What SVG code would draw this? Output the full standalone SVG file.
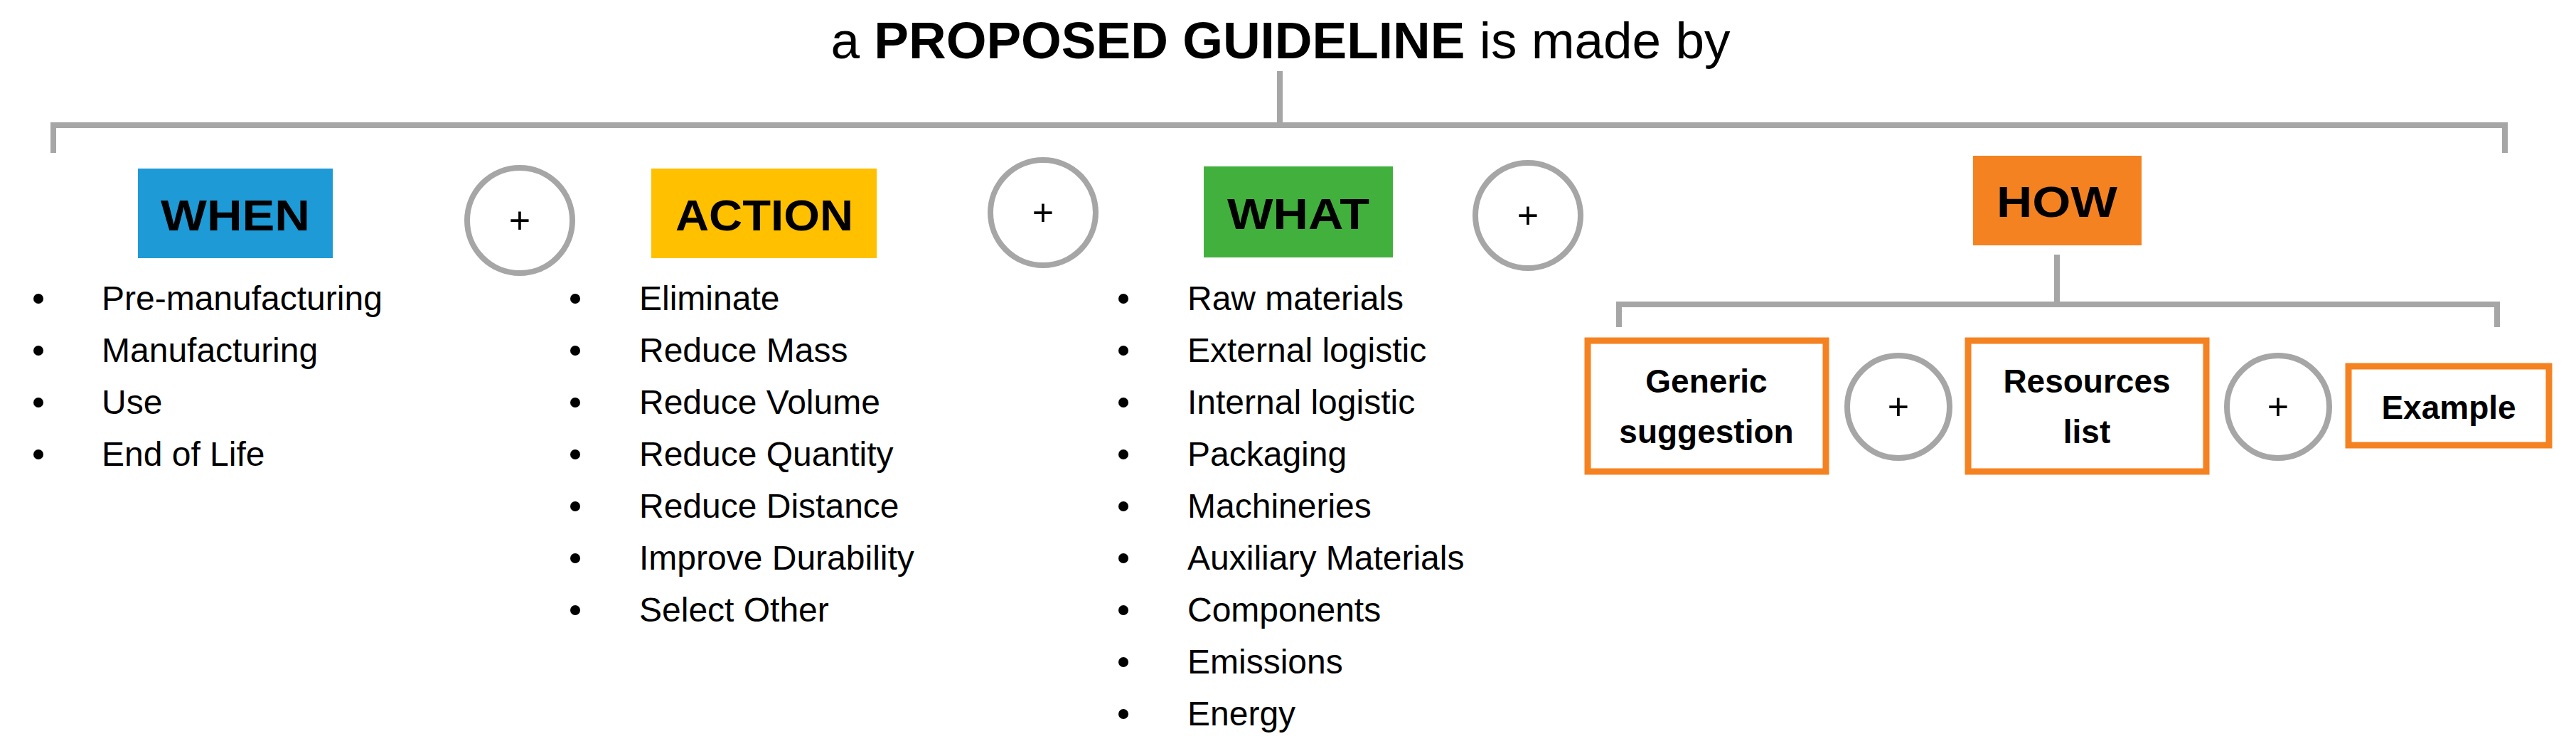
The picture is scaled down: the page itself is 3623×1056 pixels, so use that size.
<svg xmlns="http://www.w3.org/2000/svg" width="3623" height="1056" viewBox="0 0 3623 1056">
<style>
.br{fill:none;stroke:#A6A6A6;stroke-width:8}
.pl{fill:#fff;stroke:#A6A6A6;stroke-width:8}
.pt{font-family:"Liberation Sans",Arial,sans-serif;font-size:52px;text-anchor:middle}
.hd{font-family:"Liberation Sans",Arial,sans-serif;font-weight:bold;font-size:62px;text-anchor:middle}
.li{font-family:"Liberation Sans",Arial,sans-serif;font-size:48px;fill:#000}
.bx{fill:#fff;stroke:#F58220;stroke-width:9}
.bt{font-family:"Liberation Sans",Arial,sans-serif;font-weight:bold;font-size:46px;text-anchor:middle}
</style>
<rect width="3623" height="1056" fill="#fff"/>
<text x="1801" y="82" font-family="Liberation Sans,Arial,sans-serif" font-size="72" text-anchor="middle" textLength="1265" lengthAdjust="spacingAndGlyphs">a <tspan font-weight="bold">PROPOSED GUIDELINE</tspan> is made by</text>
<g id="connectors">
<path class="br" d="M75 215 V176 H3523 V215 M1800 100 V176"/>
<path class="br" d="M2277 460 V428 H3512 V460 M2893 358 V428"/>
</g>
<g id="when">
<rect x="194" y="237" width="274" height="126" fill="#1E9AD6"/>
<text class="hd" x="331" y="324" textLength="210" lengthAdjust="spacingAndGlyphs">WHEN</text>
<g class="li"><circle cx="54" cy="420" r="7"/><circle cx="54" cy="493" r="7"/><circle cx="54" cy="566" r="7"/><circle cx="54" cy="639" r="7"/>
<text x="143" y="436">Pre-manufacturing</text><text x="143" y="509">Manufacturing</text><text x="143" y="582">Use</text><text x="143" y="655">End of Life</text></g>
</g>
<g id="plus1"><circle class="pl" cx="731" cy="310" r="74"/><text class="pt" x="731" y="328">+</text></g>
<g id="action">
<rect x="916" y="237" width="317" height="126" fill="#FFC000"/>
<text class="hd" x="1075" y="324" textLength="250" lengthAdjust="spacingAndGlyphs">ACTION</text>
<g class="li"><circle cx="809" cy="420" r="7"/><circle cx="809" cy="493" r="7"/><circle cx="809" cy="566" r="7"/><circle cx="809" cy="639" r="7"/><circle cx="809" cy="712" r="7"/><circle cx="809" cy="785" r="7"/><circle cx="809" cy="858" r="7"/>
<text x="899" y="436">Eliminate</text><text x="899" y="509">Reduce Mass</text><text x="899" y="582">Reduce Volume</text><text x="899" y="655">Reduce Quantity</text><text x="899" y="728">Reduce Distance</text><text x="899" y="801">Improve Durability</text><text x="899" y="874">Select Other</text></g>
</g>
<g id="plus2"><circle class="pl" cx="1467" cy="299" r="74"/><text class="pt" x="1467" y="317">+</text></g>
<g id="what">
<rect x="1693" y="234" width="266" height="128" fill="#42B03D"/>
<text class="hd" x="1826" y="322" textLength="200" lengthAdjust="spacingAndGlyphs">WHAT</text>
<g class="li"><circle cx="1580" cy="420" r="7"/><circle cx="1580" cy="493" r="7"/><circle cx="1580" cy="566" r="7"/><circle cx="1580" cy="639" r="7"/><circle cx="1580" cy="712" r="7"/><circle cx="1580" cy="785" r="7"/><circle cx="1580" cy="858" r="7"/><circle cx="1580" cy="931" r="7"/><circle cx="1580" cy="1004" r="7"/>
<text x="1670" y="436">Raw materials</text><text x="1670" y="509">External logistic</text><text x="1670" y="582">Internal logistic</text><text x="1670" y="655">Packaging</text><text x="1670" y="728">Machineries</text><text x="1670" y="801">Auxiliary Materials</text><text x="1670" y="874">Components</text><text x="1670" y="947">Emissions</text><text x="1670" y="1020">Energy</text></g>
</g>
<g id="plus3"><circle class="pl" cx="2149" cy="303" r="74"/><text class="pt" x="2149" y="321">+</text></g>
<g id="how">
<rect x="2775" y="219" width="237" height="126" fill="#F58220"/>
<text class="hd" x="2893" y="305" textLength="170" lengthAdjust="spacingAndGlyphs">HOW</text>
</g>
<g id="generic"><rect class="bx" x="2233" y="479" width="335" height="184"/>
<text class="bt" x="2400" y="552">Generic</text><text class="bt" x="2400" y="623">suggestion</text></g>
<g id="plus4"><circle class="pl" cx="2670" cy="572" r="72"/><text class="pt" x="2670" y="590">+</text></g>
<g id="resources"><rect class="bx" x="2768" y="479" width="335" height="184"/>
<text class="bt" x="2935" y="552">Resources</text><text class="bt" x="2935" y="623">list</text></g>
<g id="plus5"><circle class="pl" cx="3204" cy="572" r="72"/><text class="pt" x="3204" y="590">+</text></g>
<g id="example"><rect class="bx" x="3303" y="515" width="282" height="111"/>
<text class="bt" x="3444" y="589">Example</text></g>
</svg>
